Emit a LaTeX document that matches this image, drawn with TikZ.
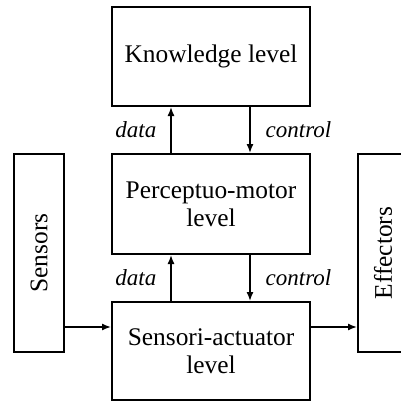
\documentclass[tikz,border=0pt]{standalone}
\usepackage{fontspec}
\setmainfont{Liberation Serif}[ItalicFont={Liberation Serif Italic}]
\usetikzlibrary{arrows.meta}
\begin{document}
\begin{tikzpicture}[x=1pt, y=-1pt,
  box/.style={draw, line width=2pt, inner sep=0pt, align=center,
    font=\fontsize{25.4}{28}\selectfont},
  lab/.style={font=\fontsize{23}{26}\selectfont\itshape, inner sep=0pt},
  flow/.style={-{Latex[length=9pt,width=7pt]}, line width=1.4pt}]
  \useasboundingbox (0,0) rectangle (401,401);

  % the three levels
  \node[box, minimum width=198pt, minimum height=99pt] (know) at (211,56.5) {Knowledge level};
  \node[box, minimum width=198pt, minimum height=100pt] (per) at (211,204) {Perceptuo-motor\\level};
  \node[box, minimum width=198pt, minimum height=98pt] (sa) at (211,351) {Sensori-actuator\\level};

  % sensors and effectors on the sides
  \node[box, minimum width=50pt, minimum height=198pt] (sens) at (39,253) {};
  \node[rotate=90, font=\fontsize{25.4}{28}\selectfont] at (sens.center) {Sensors};
  \node[box, minimum width=50pt, minimum height=198pt] (eff) at (383,253) {};
  \node[rotate=90, font=\fontsize{25.4}{28}\selectfont] at (eff.center) {Effectors};

  % data goes up, control comes down
  \draw[flow] ([xshift=-40pt]per.north) -- ([xshift=-40pt]know.south)
    node[lab, midway, anchor=east, xshift=-14pt] {data};
  \draw[flow] ([xshift=39pt]know.south) -- ([xshift=39pt]per.north)
    node[lab, midway, anchor=west, xshift=15pt] {control};
  \draw[flow] ([xshift=-40pt]sa.north) -- ([xshift=-40pt]per.south)
    node[lab, midway, anchor=east, xshift=-14pt] {data};
  \draw[flow] ([xshift=39pt]per.south) -- ([xshift=39pt]sa.north)
    node[lab, midway, anchor=west, xshift=15pt] {control};

  % side connections
  \coordinate (io) at (0,327);
  \draw[flow] (sens.east |- io) -- (sa.west |- io);
  \draw[flow] (sa.east |- io) -- (eff.west |- io);
\end{tikzpicture}
\end{document}
